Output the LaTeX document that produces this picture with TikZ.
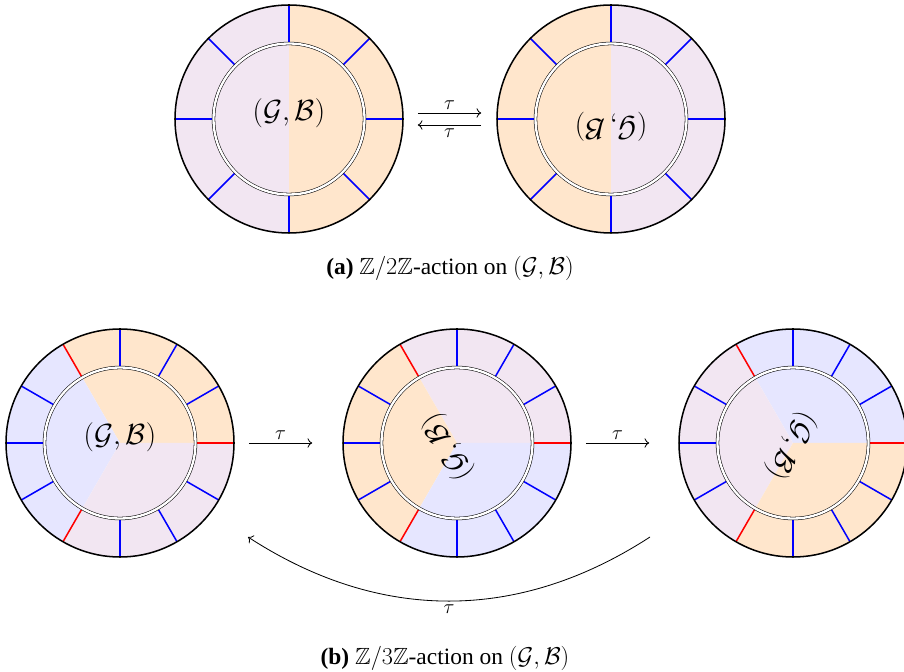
\documentclass[tikz,border=0pt]{standalone}
\usepackage{amsmath,amssymb}
\usepackage{fontspec}
\setmainfont{Liberation Serif}
\usetikzlibrary{arrows.meta,positioning,calc}
\definecolor{softorange}{HTML}{FFE6CC}
\definecolor{softviolet}{HTML}{F2E6F2}
\definecolor{softblue}{HTML}{E6E6FF}

\begin{document}
\begin{tikzpicture}[x=0.03cm,y=0.03cm,
  every node/.style={font=\normalsize},
  rim/.style={circle,draw=black,line width=1.3pt,minimum size=6.84cm,inner sep=0pt},
  ring/.style={draw=black,double=white,double distance=2pt,line width=0.45pt},
  spoke/.style={line width=1.3pt,blue},
  wall/.style={line width=1.3pt,red},
  pairtext/.style={font=\fontsize{25}{30}\selectfont,inner sep=0pt},
  arrow/.style={-{To[length=4pt,width=8pt]},line width=0.7pt},
  tau/.style={font=\fontsize{17}{20}\selectfont,inner sep=3pt},
  caption/.style={font=\fontsize{20}{24}\selectfont}
]
\useasboundingbox (0,0) rectangle (904,671);

% (a) two discs
\coordinate (a1) at (289,552);
\coordinate (a2) at (611,552);
\fill[softviolet] (a1) -- ++(90:114) arc[start angle=90,end angle=270,radius=114] -- cycle;
\fill[softorange] (a1) -- ++(-90:114) arc[start angle=-90,end angle=90,radius=114] -- cycle;
\fill[softorange] (a2) -- ++(90:114) arc[start angle=90,end angle=270,radius=114] -- cycle;
\fill[softviolet] (a2) -- ++(-90:114) arc[start angle=-90,end angle=90,radius=114] -- cycle;
\foreach \c in {a1,a2} {
  \foreach \t in {0,45,...,315}
    \draw[spoke] ($(\c)+(\t:76)$) -- ($(\c)+(\t:114)$);
  \draw[ring] (\c) circle[radius=75.5];
  \node[rim] (\c c) at (\c) {};
}
\node[pairtext] (p1) at ($(a1)+(0,6)$) {$(\mathcal{G},\mathcal{B})$};
\node[pairtext,rotate=180] (p2) at ($(a2)+(0,-8)$) {$(\mathcal{G},\mathcal{B})$};

\draw[arrow] ($(a1c.east)+(14,6)$) -- node[tau,above]{$\tau$} ($(a2c.west)+(-15,6)$);
\draw[arrow] ($(a2c.west)+(-15,-6)$) -- node[tau,below]{$\tau$} ($(a1c.east)+(14,-6)$);

\node[caption] (capa) at (450,403) {\textbf{(a)} $\mathbb{Z}/2\mathbb{Z}$-action on $(\mathcal{G},\mathcal{B})$};

% (b) three discs
\foreach \c/\x/\p/\q/\r/\rot/\dx/\dy in {b1/120/softorange/softblue/softviolet/0/0/6,
    b2/457/softviolet/softorange/softblue/120/-9/-4,
    b3/793/softblue/softviolet/softorange/240/-2/-3} {
  \coordinate (\c) at (\x,228);
  \fill[\p] (\c) -- ++(0:114) arc[start angle=0,end angle=120,radius=114] -- cycle;
  \fill[\q] (\c) -- ++(120:114) arc[start angle=120,end angle=240,radius=114] -- cycle;
  \fill[\r] (\c) -- ++(240:114) arc[start angle=240,end angle=360,radius=114] -- cycle;
  \foreach \t in {30,60,90,150,180,210,270,300,330}
    \draw[spoke] ($(\c)+(\t:76)$) -- ($(\c)+(\t:114)$);
  \foreach \t in {0,120,240}
    \draw[wall] ($(\c)+(\t:76)$) -- ($(\c)+(\t:114)$);
  \draw[ring] (\c) circle[radius=75.5];
  \node[rim] (\c c) at (\c) {};
  \node[pairtext,rotate=\rot] at ($(\c)+(\dx,\dy)$) {$(\mathcal{G},\mathcal{B})$};
}

\draw[arrow] ($(b1c.east)+(14,0)$) -- node[tau,above]{$\tau$} ($(b2c.west)+(-30,0)$);
\draw[arrow] ($(b2c.east)+(14,0)$) -- node[tau,above]{$\tau$} ($(b3c.west)+(-29,0)$);
\coordinate (back1) at (650,134);
\coordinate (back2) at (248,134);
\draw[arrow] (back1) to[bend left=33] node[tau,below]{$\tau$} (back2);

\node[caption] (capb) at (445,13) {\textbf{(b)} $\mathbb{Z}/3\mathbb{Z}$-action on $(\mathcal{G},\mathcal{B})$};
\end{tikzpicture}
\end{document}
